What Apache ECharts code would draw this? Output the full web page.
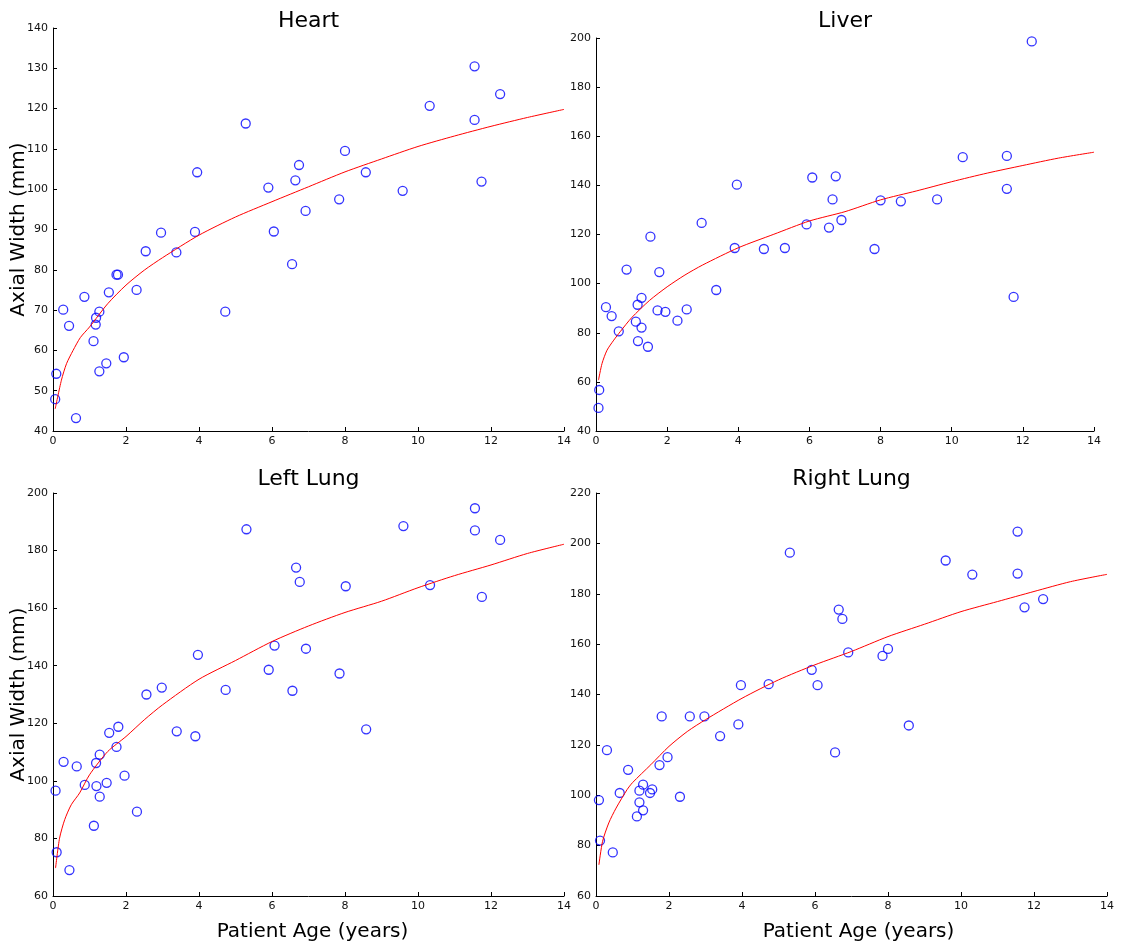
<!DOCTYPE html>
<html>
<head>
<meta charset="utf-8">
<script src="https://cdn.jsdelivr.net/npm/echarts@6/dist/echarts.min.js"></script>
<style>
  html, body { margin: 0; padding: 0; background: #fff; }
  #chart { width: 1125px; height: 947px; }
</style>
</head>
<body>
<div id="chart"></div>
<script>
// Axial width of organs versus patient age, one panel per organ.
// Each organ: measured cases (age, width) and the fitted growth curve.

const panelTitles = ['Heart', 'Liver', 'Left Lung', 'Right Lung'];
const xLabel = 'Patient Age (years)';
const yLabel = 'Axial Width (mm)';

// Measured cases [age in years, axial width in mm]
const heartPoints = [
  [0.06, 47.9], [0.09, 54.2], [0.28, 70.1], [0.44, 66.1], [0.63, 43.2],
  [0.86, 73.3], [1.11, 62.3], [1.17, 66.4], [1.18, 68.1], [1.27, 69.6],
  [1.27, 54.8], [1.46, 56.8], [1.53, 74.4], [1.74, 78.8], [1.78, 78.8],
  [1.94, 58.3], [2.29, 75.0], [2.54, 84.6], [2.96, 89.2], [3.38, 84.3],
  [3.89, 89.4], [3.95, 104.2], [4.72, 69.6], [5.28, 116.3], [5.90, 100.4],
  [6.05, 89.5], [6.55, 81.4], [6.64, 102.2], [6.74, 106.0], [6.92, 94.6],
  [7.84, 97.5], [8.0, 109.5], [8.57, 104.2], [9.58, 99.6], [10.32, 120.7],
  [11.55, 130.5], [11.55, 117.2], [11.74, 101.9], [12.25, 123.6]
];
const liverPoints = [
  [0.07, 49.4], [0.09, 56.7], [0.28, 90.4], [0.44, 86.8], [0.64, 80.6],
  [0.86, 105.7], [1.12, 84.5], [1.17, 91.4], [1.18, 76.6], [1.28, 94.2],
  [1.28, 82.1], [1.46, 74.3], [1.53, 119.1], [1.73, 89.1], [1.78, 104.7],
  [1.95, 88.5], [2.29, 84.9], [2.55, 89.5], [2.97, 124.7], [3.38, 97.4],
  [3.90, 114.5], [3.96, 140.3], [4.72, 114.1], [5.31, 114.5], [5.92, 124.1],
  [6.08, 143.2], [6.55, 122.8], [6.65, 134.3], [6.74, 143.7], [6.90, 125.9],
  [7.83, 114.1], [8.0, 133.9], [8.57, 133.5], [9.59, 134.3], [10.31, 151.5],
  [11.55, 152.0], [11.55, 138.6], [11.74, 94.6], [12.25, 198.6]
];
const leftLungPoints = [
  [0.07, 96.6], [0.10, 75.2], [0.29, 106.6], [0.45, 69.0], [0.65, 105.0],
  [0.87, 98.6], [1.12, 84.4], [1.18, 106.2], [1.19, 98.2], [1.28, 109.1],
  [1.28, 94.5], [1.47, 99.3], [1.54, 116.7], [1.74, 111.8], [1.79, 118.8],
  [1.96, 101.8], [2.30, 89.3], [2.56, 130.0], [2.98, 132.4], [3.39, 117.2],
  [3.90, 115.5], [3.97, 143.8], [4.73, 131.6], [5.30, 187.4], [5.91, 138.6],
  [6.07, 147.0], [6.56, 131.3], [6.66, 174.1], [6.76, 169.1], [6.93, 145.9],
  [7.85, 137.3], [8.02, 167.6], [8.58, 117.9], [9.60, 188.5], [10.33, 168.0],
  [11.56, 194.7], [11.56, 187.0], [11.75, 163.9], [12.25, 183.7]
];
const rightLungPoints = [
  [0.08, 98.1], [0.11, 82.0], [0.30, 117.9], [0.46, 77.3], [0.65, 100.9],
  [0.88, 110.1], [1.12, 91.6], [1.19, 101.8], [1.19, 97.2], [1.29, 104.2],
  [1.29, 94.0], [1.48, 100.9], [1.54, 102.3], [1.74, 112.0], [1.80, 131.3],
  [1.96, 115.1], [2.30, 99.4], [2.57, 131.3], [2.97, 131.3], [3.40, 123.5],
  [3.90, 128.1], [3.97, 143.7], [4.73, 144.1], [5.31, 196.3], [5.91, 149.8],
  [6.07, 143.7], [6.55, 117.0], [6.65, 173.7], [6.75, 170.0], [6.91, 156.7],
  [7.85, 155.3], [8.0, 158.1], [8.57, 127.7], [9.58, 193.2], [10.31, 187.6],
  [11.55, 204.7], [11.55, 188.0], [11.74, 174.6], [12.25, 177.9]
];

// Fitted growth curves [age, width]
const heartFit = [
  [0.06, 45.5], [0.23, 52.6], [0.37, 56.7], [0.55, 60.0], [0.75, 63.2],
  [1, 65.8], [1.5, 71.6], [2, 76.2], [2.5, 79.9], [3, 83.0], [4, 88.6],
  [5, 93.1], [6, 96.9], [7, 100.6], [8, 104.3], [9, 107.5], [10, 110.6],
  [11, 113.2], [12, 115.6], [13, 117.8], [14, 119.8]
];
const liverFit = [
  [0.07, 60.7], [0.17, 67.5], [0.31, 72.9], [0.5, 77.0], [0.69, 80.6],
  [1, 86.1], [1.5, 93.1], [2, 98.7], [2.5, 103.5], [3, 107.6], [4, 114.6],
  [5, 120.1], [6, 125.5], [7, 129.3], [8, 134.1], [9, 137.7], [10, 141.5],
  [11, 145.0], [12, 148.1], [13, 151.1], [14, 153.5]
];
const leftLungFit = [
  [0.07, 69.7], [0.18, 80.1], [0.32, 86.5], [0.5, 91.7], [0.73, 95.8],
  [1, 102.1], [1.5, 110.2], [2, 115.4], [2.5, 121.2], [3, 126.4], [4, 135.3],
  [5, 141.8], [6, 148.4], [7, 153.8], [8, 158.5], [9, 162.4], [10, 167.1],
  [11, 171.3], [12, 175.0], [13, 179.0], [14, 182.2]
];
const rightLungFit = [
  [0.08, 72.4], [0.18, 81.7], [0.35, 89.0], [0.55, 94.9], [0.85, 102.2],
  [1, 105.0], [1.5, 112.1], [2, 119.4], [2.5, 125.3], [3, 130.0], [4, 138.5],
  [5, 145.8], [6, 151.8], [7, 157.1], [8, 163.0], [9, 167.9], [10, 172.9],
  [11, 176.9], [12, 180.9], [13, 184.8], [14, 187.7]
];

// Axis ranges per panel [min, max, interval]
const xRange = [0, 14, 2];
const yRanges = [[40, 140, 10], [40, 200, 20], [60, 200, 20], [60, 220, 20]];

const pointSets = [heartPoints, liverPoints, leftLungPoints, rightLungPoints];
const fitSets = [heartFit, liverFit, leftLungFit, rightLungFit];

const FONT = 'DejaVu Sans';
const grids = [
  { left: 53, top: 28, width: 511, height: 403 },
  { left: 596, top: 38, width: 498, height: 393 },
  { left: 53, top: 493, width: 511, height: 403 },
  { left: 596, top: 493, width: 511, height: 403 }
];
const titleTops = [10, 10, 468, 468];
// left padding that nudges the centred x-axis names to the right
const xNamePad = [0, 0, 8, 14];

const axisCommon = {
  axisLine: { show: true, lineStyle: { color: '#000', width: 1 } },
  axisTick: { show: true, inside: true, length: 4, lineStyle: { color: '#000' } },
  axisLabel: { color: '#111', fontFamily: FONT, fontSize: 11, margin: 5 },
  splitLine: { show: false }
};

const option = {
  animation: false,
  backgroundColor: '#fff',
  title: panelTitles.map((t, i) => ({
    text: t,
    left: grids[i].left + grids[i].width / 2,
    top: titleTops[i],
    textAlign: 'center',
    padding: 0,
    textStyle: { fontFamily: FONT, fontSize: 22, fontWeight: 'normal', color: '#000' }
  })),
  grid: grids,
  xAxis: grids.map((g, i) => Object.assign({
    type: 'value', gridIndex: i,
    min: xRange[0], max: xRange[1], interval: xRange[2],
    name: i >= 2 ? xLabel : '',
    nameLocation: 'middle', nameGap: 26, nameMoveOverlap: false,
    nameTextStyle: { fontFamily: FONT, fontSize: 20, color: '#000', padding: [0, 0, 0, xNamePad[i]] }
  }, axisCommon)),
  yAxis: grids.map((g, i) => Object.assign({
    type: 'value', gridIndex: i,
    min: yRanges[i][0], max: yRanges[i][1], interval: yRanges[i][2],
    name: i % 2 === 0 ? yLabel : '',
    nameLocation: 'middle', nameGap: 24, nameRotate: 90, nameMoveOverlap: false,
    nameTextStyle: { fontFamily: FONT, fontSize: 20, color: '#000' }
  }, axisCommon)),
  series: []
};

pointSets.forEach((pts, i) => {
  option.series.push({
    type: 'scatter', xAxisIndex: i, yAxisIndex: i,
    data: pts, symbol: 'circle', symbolSize: 9,
    itemStyle: { color: 'rgba(0,0,0,0)', borderColor: '#0000ff', borderWidth: 1.3 },
    z: 2
  });
  option.series.push({
    type: 'line', xAxisIndex: i, yAxisIndex: i,
    data: fitSets[i], showSymbol: false, smooth: 0.25,
    lineStyle: { color: '#ff0000', width: 1 },
    z: 3
  });
});

const chart = echarts.init(document.getElementById('chart'), null, { renderer: 'canvas' });
chart.setOption(option);
</script>
</body>
</html>
